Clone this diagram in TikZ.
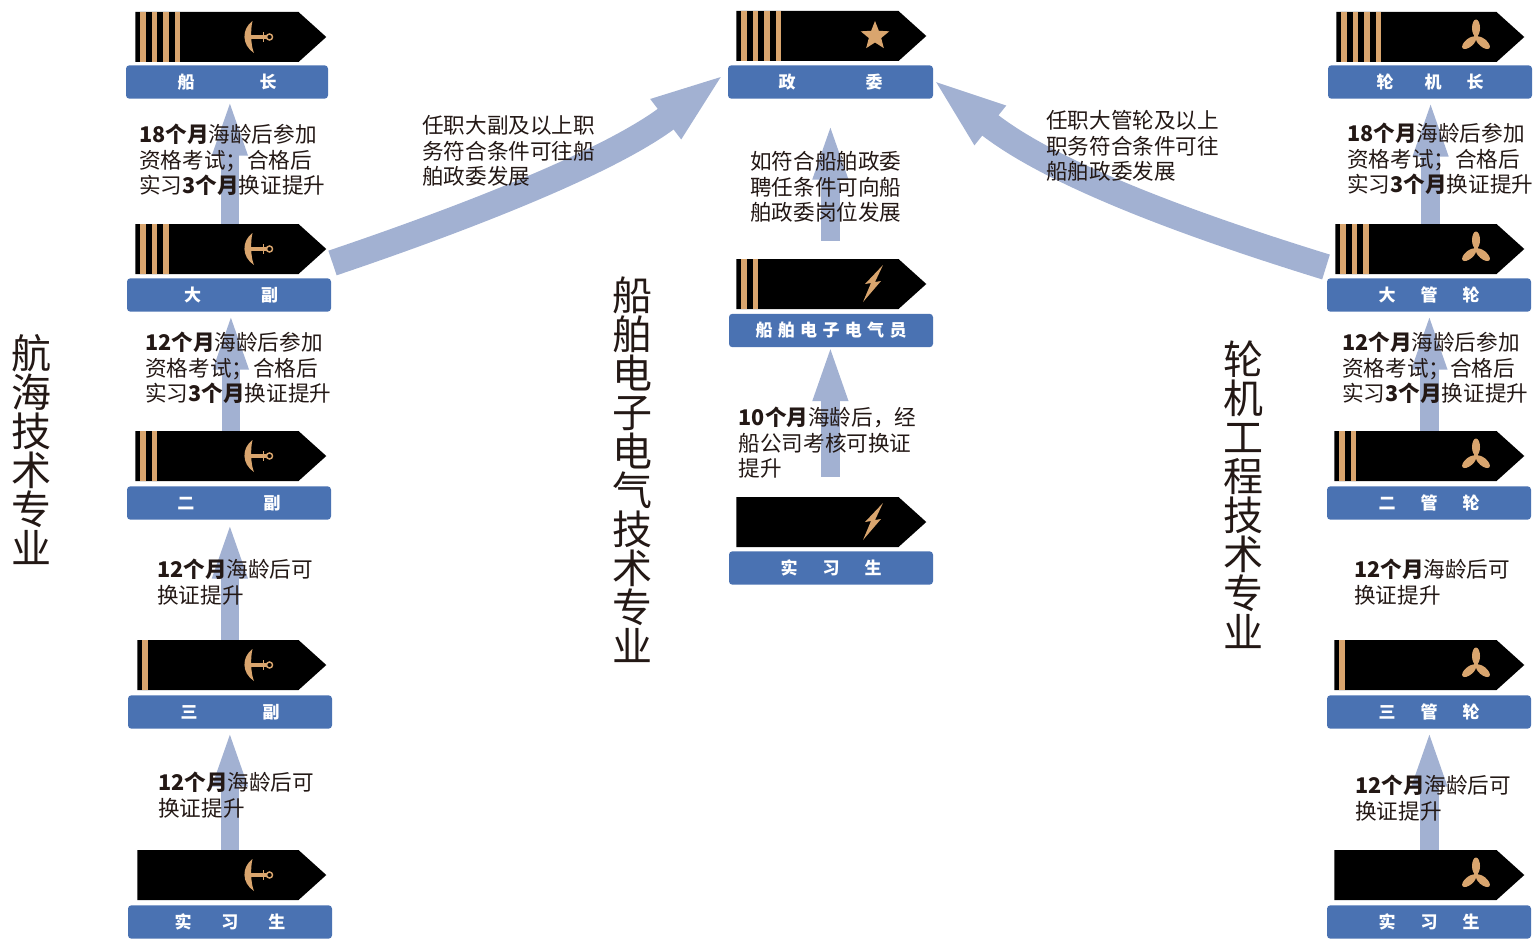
\documentclass[tikz,border=0pt]{standalone}
\usepackage{fontspec}
\setmainfont{Noto Sans CJK SC}
\usetikzlibrary{positioning,arrows.meta,shapes.symbols}
\definecolor{boxblue}{HTML}{4A72B2}
\definecolor{risecol}{HTML}{A2B1D2}
\definecolor{barcol}{HTML}{D9A56E}
\definecolor{inkcol}{HTML}{231815}
\tikzset{
rankstrap/.style={signal,signal to=east,signal pointer angle=84,fill=black,inner sep=0pt,minimum height=37.5pt,anchor=west},
rankbox/.style={fill=boxblue,rounded corners=2.5pt,text=white,inner sep=0pt,minimum height=25pt,font=\fontsize{12.75}{15}\selectfont\bfseries},
noteline/.style={anchor=west,align=left,inner sep=0pt,text=inkcol,font=\fontsize{16.2}{19.1}\selectfont},
bigtitle/.style={align=center,inner sep=0pt,text=inkcol,font=\fontsize{30}{29.25}\selectfont},
riseup/.style={draw=risecol,line width=14pt,-{Triangle[length=44pt,width=23pt]}},
sweep/.style={draw=risecol,line width=19.5pt,-{Triangle[length=57pt,width=33pt]}},
anchorsign/.pic={
\fill[barcol] (-6,-16) .. controls (-17,-8) and (-17,8) .. (-4.5,16) .. controls (-8,8) and (-8,-8) .. (-6,-16) -- cycle;
\draw[barcol,line width=2.6pt] (-12,0) -- (8,0);
\draw[barcol,line width=1.1pt] (11,0) circle (3);
\draw[barcol,line width=1.4pt] (5,-5) -- (5,5);
},
starsign/.pic={
\fill[barcol] (-90:15) -- (-54:6.5) -- (-18:15) -- (18:6.5) -- (54:15) -- (90:6.5) -- (126:15) -- (162:6.5) -- (198:15) -- (234:6.5) -- cycle;
},
boltsign/.pic={
\fill[barcol] (10,-19) -- (-8,0) -- (-2,-1) -- (-10,18) -- (8,-3) -- (2,-2) -- cycle;
},
propsign/.pic={
\foreach \a in {0,130,230}
\fill[barcol,rotate=\a] (0,-9) ellipse [x radius=4,y radius=8.5];
\fill[barcol] (0,0) circle (2.5);
}
}
\newcommand{\rankstrip}[7]{
\node[rankstrap,minimum width=#3*0.75pt] (#1) at (#2,#4) {};
\ifnum#5>0
\foreach \k in {1,...,#5}
\fill[barcol] ({#2+5+(\k-1)*11.5},#4-25) rectangle ({#2+10.7+(\k-1)*11.5},#4+25);
\fi
\pic at (#7,#4) {#6};
}
\begin{document}
\begin{tikzpicture}[x=0.75pt,y=-0.75pt]
\useasboundingbox (0,0) rectangle (1533,938);
\rankstrip{cz}{135}{191}{37}{4}{anchorsign}{258.5}
\rankstrip{df}{135}{191}{249}{3}{anchorsign}{258.5}
\rankstrip{ef}{135}{191}{456}{2}{anchorsign}{258.5}
\rankstrip{sf}{137}{189}{665}{1}{anchorsign}{258.5}
\rankstrip{xa}{137}{189}{875}{0}{anchorsign}{258.5}
\rankstrip{zw}{736}{190}{36}{4}{starsign}{875}
\rankstrip{dq}{736}{190}{284}{2}{boltsign}{873}
\rankstrip{xb}{736}{190}{522}{0}{boltsign}{873}
\rankstrip{lz}{1336}{188}{37}{4}{propsign}{1476}
\rankstrip{dg}{1335}{189}{249}{3}{propsign}{1476}
\rankstrip{eg}{1334}{190}{456}{2}{propsign}{1476}
\rankstrip{sg}{1334}{190}{665}{1}{propsign}{1476}
\rankstrip{xc}{1334}{190}{875}{0}{propsign}{1476}

\node[rankbox,minimum width=151.5pt] (czbox) at (227,82) {船\hspace{48.75pt}长};
\node[rankbox,minimum width=153pt] (dfbox) at (229,295) {\hspace*{3pt}大\hspace{45pt}副};
\node[rankbox,minimum width=153pt] (efbox) at (229,503) {二\hspace{52pt}副};
\node[rankbox,minimum width=153pt] (sfbox) at (230,712) {三\hspace{48.75pt}副};
\node[rankbox,minimum width=153pt] (xabox) at (230,922) {实\hspace{22.5pt}习\hspace{22.5pt}生};
\node[rankbox,minimum width=153.75pt] (zwbox) at (830.5,82) {政\hspace{52.5pt}委};
\node[rankbox,minimum width=153pt] (dqbox) at (831,330.5) {船\hspace{4pt}舶\hspace{4pt}电\hspace{4pt}子\hspace{4pt}电\hspace{4pt}气\hspace{4pt}员};
\node[rankbox,minimum width=153pt] (xbbox) at (831,568) {实\hspace{18.75pt}习\hspace{18.75pt}生};
\node[rankbox,minimum width=153pt] (lzbox) at (1430,82) {轮\hspace{23.25pt}机\hspace{18.75pt}长};
\node[rankbox,minimum width=153pt] (dgbox) at (1429,295) {大\hspace{18.75pt}管\hspace{18.75pt}轮};
\node[rankbox,minimum width=153pt] (egbox) at (1429,503) {二\hspace{18.75pt}管\hspace{18.75pt}轮};
\node[rankbox,minimum width=153pt] (sgbox) at (1429,712) {三\hspace{18.75pt}管\hspace{18.75pt}轮};
\node[rankbox,minimum width=153pt] (xcbox) at (1429,922) {实\hspace{18.75pt}习\hspace{18.75pt}生};

\draw[riseup,shorten >=-1.5pt] ([xshift=9.75pt]df.north) -- ([xshift=9.75pt]df.north |- czbox.south);
\draw[riseup,shorten >=-0.75pt] ([xshift=10.5pt]ef.north) -- ([xshift=10.5pt]ef.north |- dfbox.south);
\draw[riseup,shorten >=0pt] ([xshift=9pt]sf.north) -- ([xshift=9pt]sf.north |- efbox.south);
\draw[riseup,shorten >=-0.75pt] ([xshift=9pt]xa.north) -- ([xshift=9pt]xa.north |- sfbox.south);
\draw[riseup,shorten <=13.5pt,shorten >=16.5pt] ([xshift=9.75pt]dq.north) -- ([xshift=9.75pt]dq.north |- zwbox.south);
\draw[riseup,shorten <=15pt,shorten >=-3.75pt] ([xshift=9.75pt]xb.north) -- ([xshift=9.75pt]xb.north |- dqbox.south);
\draw[riseup,shorten >=-0.75pt] ([xshift=11pt]dg.north) -- ([xshift=11pt]dg.north |- lzbox.south);
\draw[riseup,shorten >=-0.75pt] ([xshift=10.5pt]eg.north) -- ([xshift=10.5pt]eg.north |- dgbox.south);
\draw[riseup,shorten >=-0.75pt] ([xshift=10.5pt]xc.north) -- ([xshift=10.5pt]xc.north |- sgbox.south);

\coordinate (lefttail) at (332.5,263);
\coordinate (lefttip) at (726,73);
\coordinate (righttail) at (1326,267);
\coordinate (righttip) at (931,78);
\draw[sweep] (lefttail) .. controls (445,225) and (606,165) .. (lefttip);
\draw[sweep] (righttail) .. controls (1190,225) and (1051,174) .. (righttip);

\node[noteline] (czn) at (139,160) {\textbf{18个月}海龄后参加\\资格考试；合格后\\实习\textbf{3个月}换证提升};
\node[noteline] (dfn) at (145,368) {\textbf{12个月}海龄后参加\\资格考试；合格后\\实习\textbf{3个月}换证提升};
\node[noteline] (efn) at (157,582) {\textbf{12个月}海龄后可\\换证提升};
\node[noteline] (sfn) at (158,795) {\textbf{12个月}海龄后可\\换证提升};
\node[noteline] (ltx) at (422,151) {任职大副及以上职\\务符合条件可往船\\舶政委发展};
\node[noteline] (zwn) at (750,187) {如符合船舶政委\\聘任条件可向船\\舶政委岗位发展};
\node[noteline] (dqn) at (738.5,443) {\textbf{10个月}海龄后，经\\船公司考核可换证\\提升};
\node[noteline] (rtx) at (1046,146) {任职大管轮及以上\\职务符合条件可往\\船舶政委发展};
\node[noteline] (lzn) at (1347,159) {\textbf{18个月}海龄后参加\\资格考试；合格后\\实习\textbf{3个月}换证提升};
\node[noteline] (dgn) at (1342,368) {\textbf{12个月}海龄后参加\\资格考试；合格后\\实习\textbf{3个月}换证提升};
\node[noteline] (egn) at (1354,582) {\textbf{12个月}海龄后可\\换证提升};
\node[noteline] (sgn) at (1355,798) {\textbf{12个月}海龄后可\\换证提升};

\node[bigtitle] (nav) at (32,449.5) {航\\海\\技\\术\\专\\业};
\node[bigtitle] (ele) at (632,470) {船\\舶\\电\\子\\电\\气\\技\\术\\专\\业};
\node[bigtitle] (eng) at (1243,495) {轮\\机\\工\\程\\技\\术\\专\\业};
\end{tikzpicture}
\end{document}
